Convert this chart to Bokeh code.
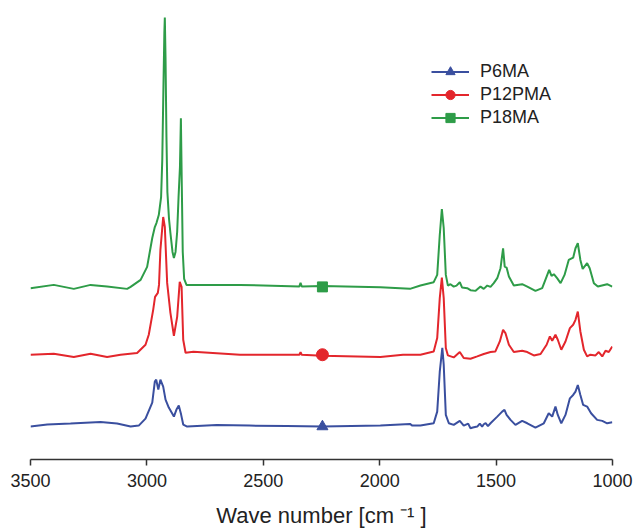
from bokeh.plotting import figure
from bokeh.models import Range1d, FixedTicker, Legend, LegendItem
from bokeh.embed import file_html
from bokeh.resources import INLINE

# ---------------- data ----------------
series_names = ["P6MA", "P12PMA", "P18MA"]
series_colors = ["#3a4f9f", "#e3262c", "#2e9c48"]
series_markers = ["triangle", "circle", "square"]
marker_sizes = [11, 12, 10]
tick_values = [3500, 3000, 2500, 2000, 1500, 1000]
offsets = [0.33, 1.05, 1.73]          # vertical offset of each spectrum
marker_wn = 2246                       # wavenumber where the marker sits

p6ma_wn = [3500, 3428, 3328, 3199, 3128, 3070, 3035, 3006, 2977, 2966, 2960, 2951,
           2942, 2930, 2920, 2906, 2884, 2873, 2863, 2853, 2844, 2827, 2700, 2560,
           2400, 2246, 1997, 1870, 1860, 1825, 1768, 1753, 1742, 1731, 1725, 1716,
           1703, 1682, 1656, 1639, 1620, 1610, 1600, 1581, 1570, 1560, 1553, 1545,
           1535, 1524, 1495, 1474, 1464, 1455, 1438, 1417, 1388, 1366, 1331, 1295,
           1274, 1259, 1245, 1235, 1220, 1202, 1183, 1169, 1159, 1149, 1138, 1126,
           1109, 1092, 1066, 1044, 1023, 1001]
p6ma_abs = [0.00, 0.02, 0.03, 0.047, 0.03, 0.00, 0.01, 0.08, 0.24, 0.45, 0.47, 0.37,
            0.47, 0.40, 0.27, 0.19, 0.10, 0.17, 0.21, 0.12, 0.02, 0.00, 0.015, 0.01,
            0.005, 0.00, 0.01, 0.027, 0.01, 0.01, 0.033, 0.15, 0.55, 0.79, 0.62, 0.117,
            0.033, 0.017, 0.057, 0.01, 0.03, -0.017, -0.01, 0.00, 0.03, 0.00, 0.023, 0.035,
            0.005, 0.033, 0.10, 0.15, 0.167, 0.117, 0.067, 0.017, 0.057, 0.033, -0.01, 0.033,
            0.133, 0.10, 0.20, 0.117, 0.033, 0.117, 0.283, 0.317, 0.35, 0.417, 0.317, 0.217,
            0.20, 0.133, 0.067, 0.057, 0.033, 0.043]

p12pma_wn = [3500, 3400, 3314, 3242, 3171, 3113, 3042, 3006, 2992, 2973, 2965, 2953,
             2948, 2942, 2930, 2923, 2913, 2899, 2884, 2870, 2859, 2851, 2844, 2834,
             2800, 2600, 2345, 2340, 2335, 2246, 1997, 1900, 1825, 1768, 1753, 1742,
             1733, 1725, 1716, 1707, 1682, 1656, 1639, 1610, 1581, 1553, 1524, 1503,
             1484, 1470, 1460, 1445, 1424, 1388, 1366, 1338, 1309, 1283, 1269, 1259,
             1245, 1235, 1220, 1202, 1183, 1169, 1159, 1149, 1138, 1123, 1109, 1095,
             1073, 1059, 1044, 1030, 1016, 1001]
p12pma_abs = [0.00, 0.01, -0.023, 0.01, -0.023, 0.00, 0.017, 0.10, 0.20, 0.45, 0.58, 0.62,
              0.70, 1.05, 1.38, 1.28, 0.72, 0.42, 0.19, 0.38, 0.73, 0.68, 0.15, 0.02,
              0.03, 0.00, 0.00, 0.025, 0.00, -0.01, -0.023, 0.00, 0.00, 0.033, 0.167, 0.567,
              0.773, 0.567, 0.067, -0.007, -0.027, 0.027, -0.033, -0.04, -0.017, 0.007, 0.027, 0.033,
              0.133, 0.25, 0.217, 0.10, 0.027, 0.04, 0.027, -0.007, 0.007, 0.10, 0.183, 0.14,
              0.20, 0.15, 0.05, 0.133, 0.267, 0.30, 0.35, 0.433, 0.233, 0.05, -0.017, 0.00,
              -0.007, 0.027, -0.017, 0.04, 0.027, 0.083]

p18ma_wn = [3500, 3400, 3314, 3242, 3171, 3085, 3070, 3027, 2999, 2977, 2966, 2959,
            2949, 2939, 2934, 2929, 2925, 2923, 2920, 2916, 2912, 2905, 2899, 2890,
            2884, 2877, 2870, 2864, 2858, 2854, 2850, 2846, 2840, 2830, 2800, 2600,
            2345, 2340, 2335, 2246, 1997, 1870, 1825, 1768, 1753, 1742, 1733, 1725,
            1716, 1707, 1696, 1682, 1670, 1656, 1646, 1624, 1610, 1588, 1567, 1553,
            1538, 1524, 1510, 1495, 1481, 1470, 1463, 1455, 1445, 1424, 1388, 1366,
            1331, 1302, 1283, 1272, 1262, 1252, 1238, 1223, 1206, 1188, 1169, 1159,
            1149, 1138, 1128, 1109, 1098, 1080, 1063, 1023, 1001]
p18ma_abs = [-0.013, 0.02, -0.02, 0.02, 0.003, -0.02, 0.00, 0.07, 0.20, 0.49, 0.60, 0.64,
             0.72, 0.90, 1.27, 2.00, 2.55, 2.70, 2.30, 1.50, 0.95, 0.68, 0.54, 0.35,
             0.29, 0.35, 0.55, 0.90, 1.20, 1.69, 1.00, 0.35, 0.08, 0.02, 0.02, 0.02,
             0.005, 0.04, 0.005, 0.01, -0.003, -0.02, 0.013, 0.047, 0.12, 0.52, 0.78, 0.59,
             0.12, 0.013, 0.027, 0.003, 0.013, 0.047, -0.007, -0.013, -0.033, -0.04, 0.003, -0.02,
             0.013, 0.00, 0.037, 0.087, 0.187, 0.387, 0.203, 0.193, 0.103, 0.013, 0.027, 0.003,
             -0.04, -0.013, 0.103, 0.17, 0.11, 0.127, 0.087, 0.037, 0.12, 0.27, 0.293, 0.387,
             0.437, 0.27, 0.18, 0.237, 0.187, 0.037, 0.003, 0.027, 0.003]

spectra_wn = [p6ma_wn, p12pma_wn, p18ma_wn]
spectra_abs = [p6ma_abs, p12pma_abs, p18ma_abs]

# ---------------- figure ----------------
FONT = "Liberation Sans"
p = figure(width=634, height=530, output_backend="svg", toolbar_location=None,
           x_range=Range1d(3500, 1000), y_range=Range1d(0.0, 4.60),
           y_axis_location=None, min_border_left=30, min_border_right=22,
           min_border_top=0, min_border_bottom=70)
p.outline_line_color = None
p.xgrid.visible = False
p.ygrid.visible = False
p.background_fill_color = "white"
p.border_fill_color = "white"

ax = p.xaxis[0]
ax.ticker = FixedTicker(ticks=tick_values)
ax.minor_tick_line_color = None
ax.major_tick_in = 0
ax.major_tick_out = 6
ax.major_tick_line_color = "#333333"
ax.major_tick_line_width = 1.5
ax.axis_line_color = "#333333"
ax.axis_line_width = 1.5
ax.major_label_text_font = FONT
ax.major_label_text_font_size = "18px"
ax.major_label_text_color = "#222222"
ax.major_label_standoff = 8
ax.axis_label = "Wave number [cm \u207b\u00b9 ]"
ax.axis_label_text_font = FONT
ax.axis_label_text_font_size = "22px"
ax.axis_label_text_font_style = "normal"
ax.axis_label_text_color = "#222222"
ax.axis_label_standoff = 13

items = []
for name, color, mk, ms, off, wn, ab in zip(series_names, series_colors, series_markers,
                                            marker_sizes, offsets, spectra_wn, spectra_abs):
    ys = [a + off for a in ab]
    lr = p.line(wn, ys, line_color=color, line_width=2)
    sr = p.scatter([marker_wn], [off], marker=mk, size=ms,
                   fill_color=color, line_color=color)
    items.append(LegendItem(label=name, renderers=[lr, sr]))

legend = Legend(items=items, location=(401, 330),
                border_line_color=None, background_fill_alpha=0,
                label_text_font=FONT, label_text_font_size="18px",
                label_text_color="#222222",
                glyph_width=38, glyph_height=23, label_height=23,
                spacing=0, padding=5, label_standoff=11)
p.add_layout(legend)

open("out.html", "w").write(file_html(p, INLINE))
